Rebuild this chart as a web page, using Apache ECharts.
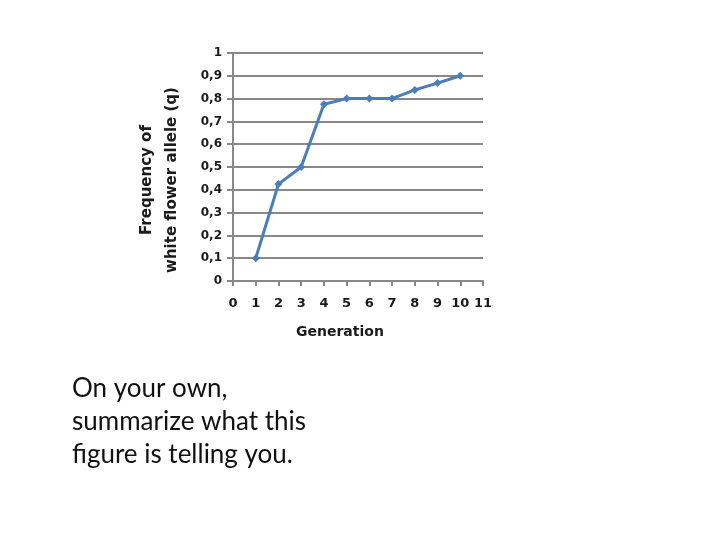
<!DOCTYPE html>
<html><head><meta charset="utf-8">
<script src="https://cdn.jsdelivr.net/npm/echarts@6/dist/echarts.min.js"></script>
<style>html,body{margin:0;padding:0;background:#fff}#c{width:720px;height:540px}</style>
</head><body><div id="c"></div>
<script>
const generations = [1, 2, 3, 4, 5, 6, 7, 8, 9, 10];
const frequencyQ = [0.1, 0.425, 0.5, 0.775, 0.8, 0.8, 0.8, 0.838, 0.868, 0.9];
const yAxisTitle = 'Frequency of\nwhite flower allele (q)';
const xAxisTitle = 'Generation';
const noteText = 'On your own,\nsummarize what this\nfigure is telling you.';

const chart = echarts.init(document.getElementById('c'), null, {renderer: 'canvas'});
const labelStyle = {fontFamily: 'DejaVu Sans', fontWeight: 'bold', fontSize: 12, color: '#1a1a1a'};
chart.setOption({
  animation: false,
  grid: {left: 233, right: 237, top: 53, bottom: 259, containLabel: false},
  title: {
    text: noteText, left: 67, top: 367,
    textStyle: {fontFamily: 'Lato', fontWeight: 'normal', fontSize: 26, lineHeight: 33, color: '#111'}
  },
  graphic: [{
    type: 'text', left: 296, top: 325,
    style: {text: xAxisTitle, font: 'bold 14px "DejaVu Sans"', fill: '#1a1a1a'}
  }, {
    type: 'text', x: 160, y: 180, rotation: Math.PI / 2,
    style: {text: yAxisTitle, font: 'bold 15px "DejaVu Sans"', lineHeight: 25,
            fill: '#1a1a1a', align: 'center', verticalAlign: 'middle'}
  }],
  xAxis: {
    type: 'value', min: 0, max: 11, interval: 1,
    axisLine: {show: true, lineStyle: {color: '#888', width: 2}},
    axisTick: {show: true, length: 5, lineStyle: {color: '#888', width: 2}},
    axisLabel: Object.assign({}, labelStyle, {fontSize: 13, margin: 16}),
    splitLine: {show: false}
  },
  yAxis: {
    type: 'value', min: 0, max: 1, interval: 0.1,
    axisLine: {show: true, lineStyle: {color: '#888', width: 2}},
    axisTick: {show: true, length: 6, lineStyle: {color: '#888', width: 2}},
    axisLabel: Object.assign({}, labelStyle, {margin: 11, formatter: v => String(Math.round(v*10)/10).replace('.', ',')}),
    splitLine: {show: true, lineStyle: {color: '#888', width: 2}}
  },
  series: [{
    type: 'line',
    data: generations.map((g, i) => [g, frequencyQ[i]]),
    symbol: 'diamond', symbolSize: 8,
    lineStyle: {color: '#4a7ebb', width: 3},
    itemStyle: {color: '#4a7ebb'}
  }]
});
</script></body></html>
